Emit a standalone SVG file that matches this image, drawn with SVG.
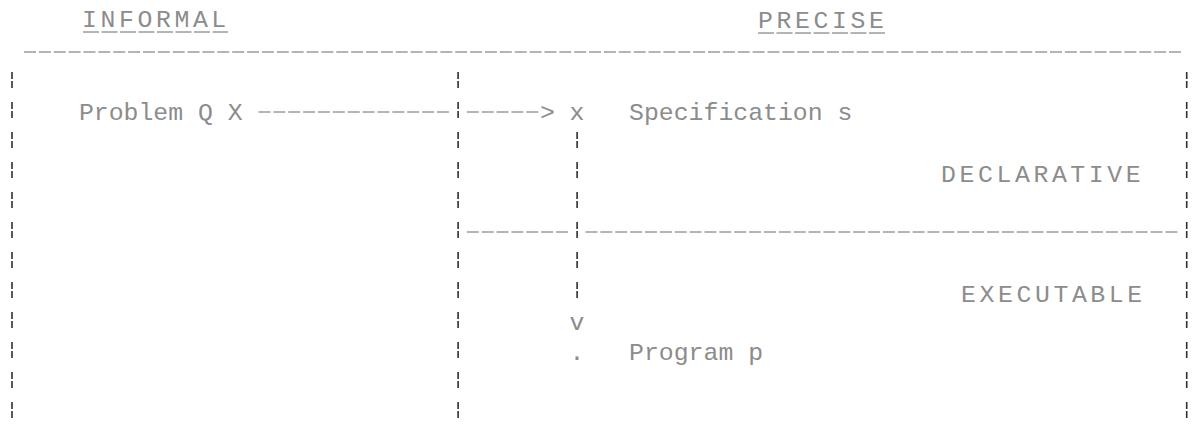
<svg xmlns="http://www.w3.org/2000/svg" width="1193" height="425" viewBox="0 0 1193 425">
  <style>
    .txt { font-family: "Liberation Mono", "DejaVu Sans Mono", monospace; font-size: 24.8px; fill: #8c8c8c; }
    .wide { letter-spacing: 3.6px; }
    .bar { fill: none; stroke: #303030; stroke-width: 1.6; stroke-dasharray: 7 2 7 14; }
    .rule { fill: none; stroke: #6a6a6a; stroke-width: 1; stroke-dasharray: 12 2.87; }
    .under { fill: none; stroke: #6a6a6a; stroke-width: 1; stroke-dasharray: 16 2.5; }
  </style>

  <rect width="1193" height="425" fill="#ffffff"/>

  <!-- column headings -->
  <g id="heading-informal">
    <text class="txt wide" x="82" y="27">INFORMAL</text>
    <path class="under" d="M83 32 H228"/>
  </g>
  <g id="heading-precise">
    <text class="txt wide" x="758" y="28">PRECISE</text>
    <path class="under" d="M758 33 H886"/>
  </g>

  <!-- page frame: top rule, borders, column divider, declarative/executable split -->
  <g id="frame">
    <path class="rule" d="M24 52 H1182"/>
    <path class="bar" d="M12 72 V418"/>
    <path class="bar" d="M458.1 72 V418"/>
    <path class="bar" d="M1186.7 72 V418"/>
    <path class="rule" d="M466.8 232 H568.5"/>
    <path class="rule" d="M585.5 232 H1178.3"/>
  </g>

  <g id="problem">
    <text class="txt" x="78.9" y="120">Problem Q X</text>
  </g>

  <g id="specification">
    <text class="txt" x="569.6" y="120">x</text>
    <text class="txt" x="629.1" y="120">Specification s</text>
  </g>

  <g id="declarative">
    <text class="txt wide" x="941" y="182">DECLARATIVE</text>
  </g>

  <g id="executable">
    <text class="txt wide" x="961" y="302">EXECUTABLE</text>
  </g>

  <g id="program">
    <text class="txt" x="569.6" y="360">.</text>
    <text class="txt" x="629.1" y="360">Program p</text>
  </g>

  <!-- problem -> specification, specification -> program -->
  <g id="connectors">
    <path class="rule" d="M258.5 112 H449.6"/>
    <path class="rule" d="M466.8 112 H539"/>
    <text class="txt" x="539.9" y="120">&gt;</text>
    <path class="bar" d="M577.1 132 V298"/>
    <text class="txt" x="569.6" y="330">v</text>
  </g>
</svg>
